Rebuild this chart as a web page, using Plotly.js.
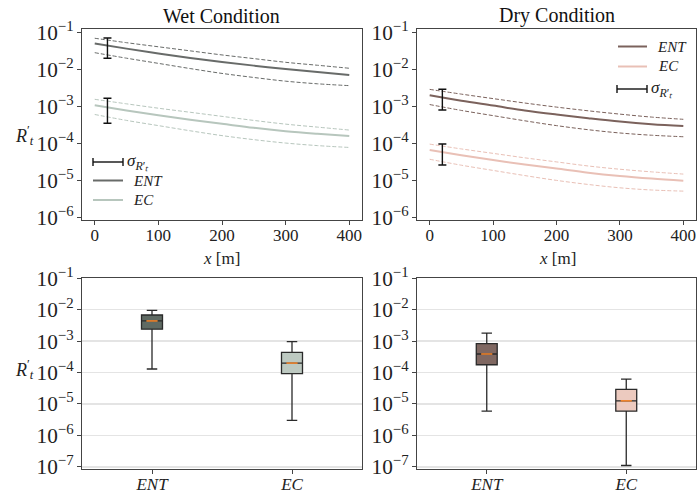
<!DOCTYPE html>
<html>
<head>
<meta charset="utf-8">
<script src="https://cdn.plot.ly/plotly-3.0.1.min.js"></script>
<style>html,body{margin:0;padding:0;background:#fff;}#chart{width:697px;height:494px;}</style>
</head>
<body>
<div id="chart"></div>
<script>
// ---------- data ----------
const xDist = [0, 50, 100, 150, 200, 250, 300, 350, 400];

const wetENTmean  = [0.0501, 0.0363, 0.0269, 0.0204, 0.0158, 0.0126, 0.0102, 0.00851, 0.00708];
const wetENTupper = [0.0692, 0.0525, 0.0407, 0.0316, 0.0245, 0.0195, 0.0155, 0.0129, 0.0107];
const wetENTlower = [0.0282, 0.0200, 0.0145, 0.0105, 0.00776, 0.00603, 0.00479, 0.00407, 0.00363];

const wetECmean  = [1.07e-3, 7.76e-4, 5.75e-4, 4.37e-4, 3.39e-4, 2.63e-4, 2.14e-4, 1.82e-4, 1.58e-4];
const wetECupper = [1.55e-3, 1.17e-3, 8.91e-4, 6.92e-4, 5.37e-4, 4.17e-4, 3.31e-4, 2.75e-4, 2.29e-4];
const wetEClower = [6.03e-4, 4.17e-4, 3.02e-4, 2.19e-4, 1.62e-4, 1.26e-4, 1.02e-4, 8.71e-5, 7.76e-5];

const dryENTmean  = [2.00e-3, 1.41e-3, 1.05e-3, 7.76e-4, 6.03e-4, 4.79e-4, 3.89e-4, 3.31e-4, 2.95e-4];
const dryENTupper = [2.88e-3, 2.14e-3, 1.62e-3, 1.23e-3, 9.55e-4, 7.59e-4, 6.17e-4, 5.13e-4, 4.47e-4];
const dryENTlower = [1.12e-3, 7.76e-4, 5.62e-4, 4.07e-4, 3.02e-4, 2.34e-4, 1.91e-4, 1.66e-4, 1.51e-4];

const dryECmean  = [6.61e-5, 4.79e-5, 3.55e-5, 2.69e-5, 2.09e-5, 1.62e-5, 1.32e-5, 1.12e-5, 9.77e-6];
const dryECupper = [9.55e-5, 7.08e-5, 5.37e-5, 4.07e-5, 3.16e-5, 2.45e-5, 2.00e-5, 1.70e-5, 1.48e-5];
const dryEClower = [3.72e-5, 2.57e-5, 1.86e-5, 1.35e-5, 1.00e-5, 7.76e-6, 6.31e-6, 5.50e-6, 5.13e-6];

// error bar (sigma) at x = 20 m
const errX = [20];
const wetENTerr = {center: 0.045, sigma: 0.025};
const wetECerr  = {center: 1.0e-3, sigma: 6.5e-4};
const dryENTerr = {center: 1.85e-3, sigma: 1.05e-3};
const dryECerr  = {center: 6.1e-5, sigma: 3.5e-5};

// box plots: categories and statistics
const boxCategories = ['ENT', 'EC'];
const boxPositions = [1, 2];
const wetQ1 = [2.4e-3, 9.2e-5];
const wetMedian = [4.4e-3, 2.0e-4];
const wetQ3 = [6.8e-3, 4.4e-4];
const wetLow = [1.3e-4, 3.0e-6];
const wetHigh = [9.5e-3, 9.7e-4];

const dryQ1 = [1.77e-4, 5.9e-6];
const dryMedian = [3.9e-4, 1.26e-5];
const dryQ3 = [8.3e-4, 2.9e-5];
const dryLow = [5.9e-6, 1.1e-7];
const dryHigh = [1.8e-3, 6.2e-5];

// ---------- styles ----------
const C = {
  wetENT: '#686b69', wetEC: '#b7c6bd',
  dryENT: '#7b625c', dryEC: '#e9c0b6',
  wetENTbox: '#5f6a63', wetECbox: '#bdc9c1',
  dryENTbox: '#7f6761', dryECbox: '#eccabf'
};
const FONT = 'Liberation Serif';
const W = 697, H = 494;
const px = x => x / W;
const py = y => 1 - y / H;

const traces = [];
function seriesTraces(mean, upper, lower, err, color, xa, ya) {
  traces.push({x: xDist, y: upper, mode: 'lines', line: {color: color, width: 1, dash: '4px,2px', shape: 'spline'}, xaxis: xa, yaxis: ya, showlegend: false, hoverinfo: 'skip'});
  traces.push({x: xDist, y: lower, mode: 'lines', line: {color: color, width: 1, dash: '4px,2px', shape: 'spline'}, xaxis: xa, yaxis: ya, showlegend: false, hoverinfo: 'skip'});
  traces.push({x: xDist, y: mean, mode: 'lines', line: {color: color, width: 2, shape: 'spline'}, xaxis: xa, yaxis: ya, showlegend: false});
  traces.push({x: errX, y: [err.center], mode: 'markers', marker: {size: 1, color: 'rgba(0,0,0,0)'},
    error_y: {type: 'data', array: [err.sigma], visible: true, color: '#111', thickness: 1.4, width: 4},
    xaxis: xa, yaxis: ya, showlegend: false});
}
seriesTraces(wetENTmean, wetENTupper, wetENTlower, wetENTerr, C.wetENT, 'x', 'y');
seriesTraces(wetECmean, wetECupper, wetEClower, wetECerr, C.wetEC, 'x', 'y');
seriesTraces(dryENTmean, dryENTupper, dryENTlower, dryENTerr, C.dryENT, 'x2', 'y2');
seriesTraces(dryECmean, dryECupper, dryEClower, dryECerr, C.dryEC, 'x2', 'y2');

function boxTraces(q1, med, q3, lo, hi, fills, xa, ya) {
  for (let i = 0; i < boxPositions.length; i++) {
    traces.push({type: 'box', x: [boxPositions[i]], q1: [q1[i]], median: [med[i]], q3: [q3[i]],
      lowerfence: [lo[i]], upperfence: [hi[i]], width: 0.15, whiskerwidth: 0.5,
      fillcolor: fills[i], line: {color: '#2a2a2a', width: 1.3}, boxpoints: false,
      xaxis: xa, yaxis: ya, showlegend: false});
    traces.push({x: [boxPositions[i] - 0.04, boxPositions[i] + 0.04], y: [med[i], med[i]], mode: 'lines',
      line: {color: '#f0852d', width: 1.6}, xaxis: xa, yaxis: ya, showlegend: false, hoverinfo: 'skip'});
  }
}
boxTraces(wetQ1, wetMedian, wetQ3, wetLow, wetHigh, [C.wetENTbox, C.wetECbox], 'x3', 'y3');
boxTraces(dryQ1, dryMedian, dryQ3, dryLow, dryHigh, [C.dryENTbox, C.dryECbox], 'x4', 'y4');

// ---------- axes ----------
const tickFont = {family: FONT, size: 17, color: '#222'};
function xLine(domain, anchor) {
  return {domain: domain, anchor: anchor, range: [-20, 420], tickvals: [0, 100, 200, 300, 400],
    showline: true, mirror: true, linecolor: '#444', linewidth: 1, ticks: 'outside', ticklen: 4, tickcolor: '#444',
    ticklabelstandoff: -4, showgrid: false, zeroline: false, tickfont: tickFont};
}
function yLog(domain, anchor, range, grid) {
  return {domain: domain, anchor: anchor, type: 'log', range: range, dtick: 1, exponentformat: 'power',
    showline: true, mirror: true, linecolor: '#444', linewidth: 1, ticks: 'outside', ticklen: 4, tickcolor: '#444',
    showgrid: grid, gridcolor: '#e4e4e4', gridwidth: 1.5, zeroline: false, tickfont: tickFont};
}
function xBox(domain, anchor) {
  return {domain: domain, anchor: anchor, range: [0.5, 2.5], tickvals: boxPositions,
    ticktext: boxCategories.map(c => '<i>' + c + '</i>'),
    showline: true, mirror: true, linecolor: '#444', linewidth: 1, ticks: 'outside', ticklen: 4, tickcolor: '#444',
    ticklabelstandoff: -4, showgrid: false, zeroline: false, tickfont: tickFont};
}
const dxL = [82 / W, 362 / W], dxR = [417 / W, 696 / W];
const dyT = [py(220), py(29)], dyB = [py(469), py(278)];
const topRange = [-6.07, -0.91], botRange = [-7.07, -0.99];

// ---------- legend (drawn) ----------
const shapes = [];
const annotations = [];
function legLine(x0, x1, y, color) {
  shapes.push({type: 'line', xref: 'paper', yref: 'paper', x0: px(x0), x1: px(x1), y0: py(y), y1: py(y), line: {color: color, width: 2}});
}
function legErr(x0, x1, y) {
  shapes.push({type: 'line', xref: 'paper', yref: 'paper', x0: px(x0), x1: px(x1), y0: py(y), y1: py(y), line: {color: '#111', width: 1.4}});
  shapes.push({type: 'line', xref: 'paper', yref: 'paper', x0: px(x0), x1: px(x0), y0: py(y - 4), y1: py(y + 4), line: {color: '#111', width: 1.4}});
  shapes.push({type: 'line', xref: 'paper', yref: 'paper', x0: px(x1), x1: px(x1), y0: py(y - 4), y1: py(y + 4), line: {color: '#111', width: 1.4}});
}
function legText(x, y, text, size) {
  annotations.push({xref: 'paper', yref: 'paper', x: px(x), y: py(y), xanchor: 'left', yanchor: 'middle', showarrow: false,
    text: text, font: {family: FONT, size: size || 15, color: '#222'}});
}
const sigmaText = '<i>σ</i><sub><i>R</i>′<i>ₜ</i></sub>';
// wet legend (lower-left)
legErr(93, 123, 162); legText(125, 162, sigmaText, 17);
legLine(93, 123, 180.5, C.wetENT); legText(131, 180.5, '<i>ENT</i>');
legLine(93, 123, 200, C.wetEC); legText(131, 200, '<i>EC</i>');
// dry legend (upper-right)
legLine(618, 647, 46.5, C.dryENT); legText(655, 46.5, '<i>ENT</i>');
legLine(618, 647, 66.5, C.dryEC); legText(656, 66.5, '<i>EC</i>');
legErr(617, 647, 89); legText(649, 89, sigmaText, 17);

// titles
annotations.push({xref: 'paper', yref: 'paper', x: px(222), y: py(16), xanchor: 'center', yanchor: 'middle', showarrow: false,
  text: 'Wet Condition', font: {family: FONT, size: 20, color: '#111'}});
annotations.push({xref: 'paper', yref: 'paper', x: px(557), y: py(16), xanchor: 'center', yanchor: 'middle', showarrow: false,
  text: 'Dry Condition', font: {family: FONT, size: 20, color: '#111'}});
// x titles
annotations.push({xref: 'paper', yref: 'paper', x: px(222), y: py(258), xanchor: 'center', yanchor: 'middle', showarrow: false,
  text: '<i>x</i> [m]', font: {family: FONT, size: 17, color: '#222'}});
annotations.push({xref: 'paper', yref: 'paper', x: px(557), y: py(258), xanchor: 'center', yanchor: 'middle', showarrow: false,
  text: '<i>x</i> [m]', font: {family: FONT, size: 17, color: '#222'}});
// y labels
const yLab = '<i>R</i><sup>′</sup><sub><i>t</i></sub>';
annotations.push({xref: 'paper', yref: 'paper', x: px(13), y: py(136), xanchor: 'left', yanchor: 'middle', showarrow: false,
  text: yLab, font: {family: FONT, size: 18, color: '#222'}});
annotations.push({xref: 'paper', yref: 'paper', x: px(13), y: py(369), xanchor: 'left', yanchor: 'middle', showarrow: false,
  text: yLab, font: {family: FONT, size: 18, color: '#222'}});

const layout = {
  width: W, height: H, margin: {l: 0, r: 0, t: 0, b: 0},
  paper_bgcolor: '#fff', plot_bgcolor: '#fff', showlegend: false,
  font: {family: FONT, color: '#222'},
  xaxis: xLine(dxL, 'y'), yaxis: yLog(dyT, 'x', topRange, false),
  xaxis2: xLine(dxR, 'y2'), yaxis2: yLog(dyT, 'x2', topRange, false),
  xaxis3: xBox(dxL, 'y3'), yaxis3: yLog(dyB, 'x3', botRange, true),
  xaxis4: xBox(dxR, 'y4'), yaxis4: yLog(dyB, 'x4', botRange, true),
  shapes: shapes, annotations: annotations
};
Plotly.newPlot('chart', traces, layout, {staticPlot: true});
</script>
</body>
</html>
